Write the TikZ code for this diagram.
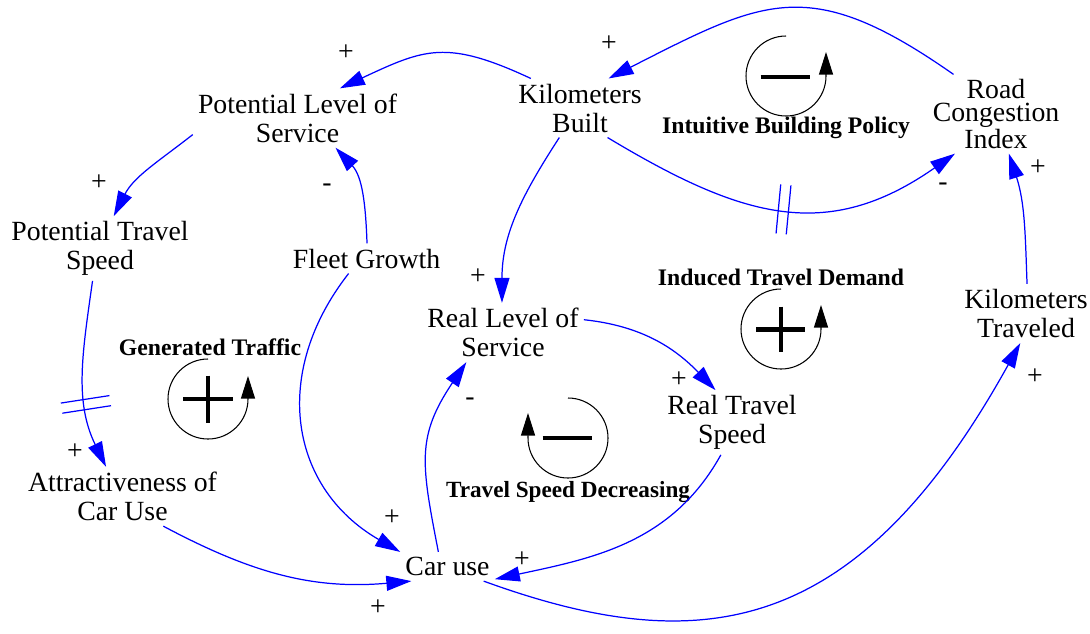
\documentclass[tikz,border=0pt]{standalone}
\usepackage{fontspec}
\setmainfont{Liberation Serif}
\usetikzlibrary{arrows.meta}

\tikzset{
    var/.style={align=center, inner sep=2.8pt, font=\fontsize{15.8}{16.5}\selectfont},
    looplabel/.style={inner sep=1pt, font=\fontsize{13.5}{15}\selectfont\bfseries},
    sign/.style={inner sep=0pt, font=\fontsize{15.8}{16.5}\selectfont},
    link/.style={blue, line width=0.7pt, -{Triangle[length=0.5cm,width=0.3cm]}},
    hatch/.style={sloped, inner sep=0pt, minimum width=0.18cm, minimum height=0.96cm},
    loopring/.style={black, line width=0.6pt, -{Triangle[length=0.45cm,width=0.28cm]}},
    loopsign/.style={black, line width=2.3pt}
}

\begin{document}
\begin{tikzpicture}
            \useasboundingbox (0,0) rectangle (21.8,-12.66);

            \node[var] (pls) at (5.95,-2.36) {Potential Level of\\Service};
            \node[var] (kb) at (11.60,-2.16) {Kilometers\\Built};
            \node[var, font=\fontsize{15.8}{12.6}\selectfont] (rci) at (19.92,-2.28) {Road\\Congestion\\Index};
            \node[var] (pts) at (2.00,-4.97) {Potential Travel\\Speed};
            \node[var] (fg) at (7.33,-5.17) {Fleet Growth};
            \node[var] (rls) at (10.06,-6.65) {Real Level of\\Service};
            \node[var] (kt) at (20.52,-6.27) {Kilometers\\Traveled};
            \node[var] (rts) at (14.64,-8.45) {Real Travel\\Speed};
            \node[var] (acu) at (2.45,-9.93) {Attractiveness of\\Car Use};
            \node[var] (cu) at (8.95,-11.33) {Car use};

            \node[looplabel] (gtl) at (4.20,-6.94) {Generated Traffic};
            \node[looplabel] (ibpl) at (15.72,-2.56) {Intuitive Building Policy};
            \node[looplabel] (itdl) at (15.62,-5.54) {Induced Travel Demand};
            \node[looplabel, font=\fontsize{13.2}{15}\selectfont\bfseries] (tsdl) at (11.36,-9.84) {Travel Speed Decreasing};

            % loop symbols
            \draw[loopring] (4.16,-7.18) arc[start angle=90, end angle=360, radius=0.8] -- ++(0,0.46);
            \draw[loopsign] (3.66,-7.98) -- (4.66,-7.98) (4.16,-7.51) -- (4.16,-8.45);

            \draw[loopring] (15.72,-0.72) arc[start angle=90, end angle=360, radius=0.8] -- ++(0,0.48);
            \draw[loopsign] (15.21,-1.54) -- (16.19,-1.54);

            \draw[loopring] (15.62,-5.78) arc[start angle=90, end angle=360, radius=0.8] -- ++(0,0.48);
            \draw[loopsign] (15.12,-6.59) -- (16.10,-6.59) (15.62,-6.13) -- (15.62,-7.04);

            \draw[loopring] (11.36,-7.96) arc[start angle=90, end angle=-180, radius=0.8] -- ++(0,0.5);
            \draw[loopsign] (10.85,-8.76) -- (11.83,-8.76);

            % causal links
            \draw[link] (kb.149) to[out=155, in=25, looseness=1.25] (pls.35);
            \draw[link] (rci.137) to[out=145, in=27, looseness=1.3] (kb.46);
            \draw[link] (kb.-47) to[out=-31, in=215, looseness=1.15] node[hatch, pos=.5] (d1) {} (rci.224);
            \draw[link] (kb.235) to[out=237, in=90] (rls.92);
            \draw[link] (pls.189) to[out=218, in=63] (pts.67);
            \draw[link] (fg.88) to[out=92, in=-47] (pls.-38);
            \draw[link] (fg.220) to[out=232, in=150, looseness=1.15] (cu.north west);
            \draw[link] (pts.257) to[out=262, in=116] node[hatch, pos=.66] (d2) {} (acu.119);
            \draw[link] (acu.-36) to[out=-28, in=185] (cu.202);
            \draw[link] (cu.122) to[out=101, in=236, looseness=1.2] (rls.219);
            \draw[link] (rls.9) to[out=-6, in=134] (rts.117);
            \draw[link] (rts.251) to[out=241, in=12] (cu.-15);
            \draw[link] (cu.-22) .. controls +(-20:4.6) and +(241:6.76) .. (kt.259);
            \draw[link] (kt.88) to[out=92, in=-72] (rci.-72);

            % delay marks
            \draw[link, -] (d1.north west) -- (d1.south west) (d1.north east) -- (d1.south east);
            \draw[link, -] (d2.north west) -- (d2.south west) (d2.north east) -- (d2.south east);

            \node[sign] (s1) at (6.92,-1.06) {+};
            \node[sign] (s2) at (12.18,-0.88) {+};
            \node[sign] (s3) at (18.86,-3.74) {-};
            \node[sign] (s4) at (9.56,-5.54) {+};
            \node[sign] (s5) at (1.98,-3.66) {+};
            \node[sign] (s6) at (6.54,-3.76) {-};
            \node[sign] (s7) at (7.84,-10.36) {+};
            \node[sign] (s8) at (1.50,-9.04) {+};
            \node[sign] (s9) at (7.56,-12.16) {+};
            \node[sign] (s10) at (9.40,-8.04) {-};
            \node[sign] (s11) at (13.58,-7.60) {+};
            \node[sign] (s12) at (10.44,-11.20) {+};
            \node[sign] (s13) at (20.70,-7.54) {+};
            \node[sign] (s14) at (20.76,-3.36) {+};
\end{tikzpicture}
\end{document}
